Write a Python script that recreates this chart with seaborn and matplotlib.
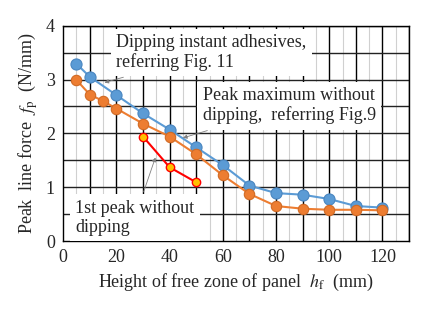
import matplotlib
matplotlib.use("Agg")
import matplotlib.pyplot as plt
import seaborn as sns
import pandas as pd
from matplotlib.ticker import MultipleLocator

# data
x_dip = [5, 10, 20, 30, 40, 50, 60, 70, 80, 90, 100, 110, 120]
y_dip = [3.29, 3.05, 2.71, 2.37, 2.07, 1.74, 1.41, 1.03, 0.89, 0.86, 0.78, 0.65, 0.62]

x_max = [5, 10, 15, 20, 30, 40, 50, 60, 70, 80, 90, 100, 110, 120]
y_max = [2.99, 2.72, 2.60, 2.46, 2.18, 1.94, 1.61, 1.22, 0.875, 0.65, 0.60, 0.58, 0.58, 0.57]
err_max = [0.08, 0.07, 0.05, 0.06, 0.05, 0.04, 0.04, 0.04, 0.03, 0.03, 0.02, 0.02, 0.02, 0.02]

x_first = [30, 40, 50]
y_first = [1.94, 1.37, 1.09]

sns.set_style("white")
plt.rcParams['font.family'] = ['Liberation Serif', 'DejaVu Serif']
plt.rcParams['mathtext.fontset'] = 'stix'

fig = plt.figure(figsize=(4.27, 3.13), dpi=100)
ax = fig.add_axes([0.148, 0.23, 0.81, 0.688])

blue = "#5B9BD5"
orange = "#ED7D31"
fs = 13

ax.errorbar(x_max, y_max, yerr=err_max, fmt="none", ecolor="#7f7f7f", elinewidth=0.8, zorder=3)

sns.lineplot(x=x_dip, y=y_dip, ax=ax, color=blue, lw=1.5, marker="o", markersize=8,
             markeredgecolor="#4A86C0", markeredgewidth=0.8, zorder=4)
sns.lineplot(x=x_max, y=y_max, ax=ax, color=orange, lw=1.5, marker="o", markersize=7.5,
             markeredgecolor="#D06A25", markeredgewidth=0.8, zorder=5)
sns.lineplot(x=x_first, y=y_first, ax=ax, color="#FF0000", lw=1.5, marker="o", markersize=6,
             markerfacecolor="#FFC000", markeredgecolor="#FF0000", markeredgewidth=1.0, zorder=6)

ax.set_xlim(0, 130)
ax.set_ylim(0, 4)
ax.xaxis.set_major_locator(MultipleLocator(20))
ax.yaxis.set_major_locator(MultipleLocator(1))

# grid
for gx in range(10, 131, 10):
    ax.axvline(gx, color="black", lw=1.0, zorder=1)
for gx in range(5, 131, 10):
    ax.axvline(gx, color="#d0d0d0", lw=0.8, zorder=0.5)
for gy in [0.5, 1, 1.5, 2, 2.5, 3, 3.5, 4]:
    ax.axhline(gy, color="#222222", lw=1.0, zorder=1)

for s in ax.spines.values():
    s.set_color("black")
    s.set_linewidth(1.0)
ax.tick_params(axis="both", labelsize=fs, length=0, pad=6)

ax.set_xlabel("Height of free zone of panel  $h_\\mathrm{f}$  (mm)", fontsize=fs, labelpad=4)
ax.set_ylabel("Peak  line force  $f_\\mathrm{p}$  (N/mm)", fontsize=fs, labelpad=4)

box = dict(boxstyle="square,pad=0.3", facecolor="white", edgecolor="none")
arrow = dict(arrowstyle="-|>", color="#808080", lw=0.6, mutation_scale=6)

ax.annotate("Dipping instant adhesives,\nreferring Fig. 11", xy=(14.5, 2.93), xytext=(20, 3.5),
            fontsize=fs, bbox=box, arrowprops=arrow, va="center", ha="left", zorder=8,
            linespacing=1.15)
ax.annotate("Peak maximum without\ndipping,  referring Fig.9", xy=(44, 1.9), xytext=(52.5, 2.51),
            fontsize=fs, bbox=box, arrowprops=arrow, va="center", ha="left", zorder=8,
            linespacing=1.15)
ax.annotate("1st peak without\ndipping", xy=(35, 1.6), xytext=(4.5, 0.43),
            fontsize=fs, bbox=box, arrowprops=arrow, va="center", ha="left", zorder=8,
            linespacing=1.15)

fig.savefig("out.png", dpi=100)
